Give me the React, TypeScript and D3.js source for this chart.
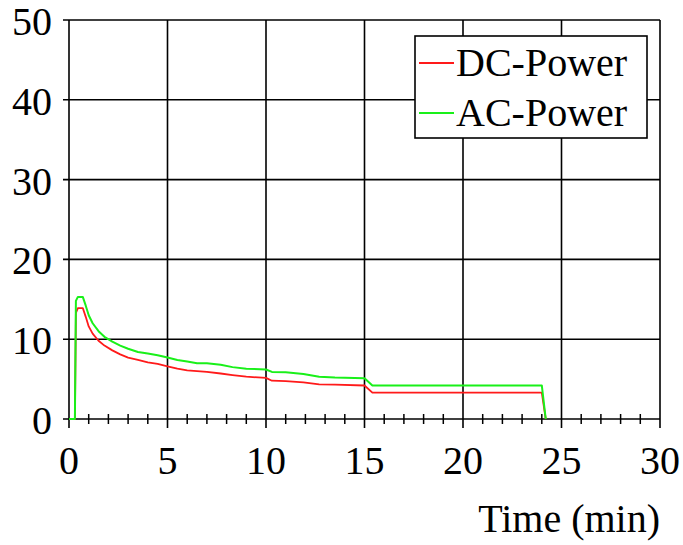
import React from 'react';
import { scaleLinear, line, range } from 'd3';

// values (minutes, kW)
const timeMin = [0, 0.3, 0.35, 0.45, 0.7, 0.85, 1.0, 1.2, 1.5, 1.8, 2.2, 2.6, 3.0, 3.5, 4.0, 4.5, 5.0, 5.5, 6.0, 6.5, 7.0, 7.7, 8.3, 9.0, 10.0, 10.3, 11.0, 11.9, 12.7, 13.5, 15.0, 15.4, 17, 20, 22, 24.0, 24.2];
const acPower = [0, 0, 14.8, 15.3, 15.3, 14.2, 13.0, 12.0, 11.0, 10.3, 9.7, 9.2, 8.8, 8.4, 8.2, 8.0, 7.7, 7.4, 7.2, 7.0, 7.0, 6.8, 6.5, 6.3, 6.2, 5.9, 5.85, 5.65, 5.3, 5.2, 5.1, 4.2, 4.2, 4.2, 4.2, 4.2, 0];
const dcPower = [0, 0, 13.3, 13.9, 13.9, 12.8, 11.6, 10.7, 9.8, 9.2, 8.6, 8.1, 7.7, 7.4, 7.1, 6.9, 6.6, 6.3, 6.1, 6.0, 5.9, 5.7, 5.5, 5.3, 5.15, 4.8, 4.75, 4.6, 4.35, 4.3, 4.2, 3.3, 3.3, 3.3, 3.3, 3.3, 0];

const xTicks = [0, 5, 10, 15, 20, 25, 30];
const yTicks = [0, 10, 20, 30, 40, 50];
const seriesNames = ['DC-Power', 'AC-Power'];
const seriesColors = ['#ff1a1a', '#19f019'];

const FONT = 'Liberation Serif';

export default function App() {
    const x = scaleLinear().domain([0, 30]).range([69, 660]);
    const y = scaleLinear().domain([0, 50]).range([419, 20]);

    const path = line<number>()
        .x((d, i) => x(timeMin[i]))
        .y(d => y(d));

    // minor ticks every minute on the time axis
    const minor = range(0, 31).filter(v => v % 5 !== 0);

    return (
        <svg width={683} height={545} style={{ position: 'absolute', left: 0, top: 0, background: '#fff' }}>
            {/* grid */}
            {xTicks.map(v => (
                <line key={'gx' + v} x1={x(v)} x2={x(v)} y1={y(50)} y2={y(0) + 9} stroke="#000" strokeWidth={1.6} />
            ))}
            {yTicks.map(v => (
                <line key={'gy' + v} x1={x(0) - 6} x2={x(30)} y1={y(v)} y2={y(v)} stroke="#000" strokeWidth={1.6} />
            ))}
            {minor.map(v => (
                <line key={'mx' + v} x1={x(v)} x2={x(v)} y1={y(0) - 5} y2={y(0) + 5} stroke="#000" strokeWidth={1.5} />
            ))}

            {/* data */}
            <path d={path(dcPower) || ''} fill="none" stroke={seriesColors[0]} strokeWidth={1.8} strokeLinejoin="round" />
            <path d={path(acPower) || ''} fill="none" stroke={seriesColors[1]} strokeWidth={2} strokeLinejoin="round" />

            {/* tick labels */}
            {xTicks.map(v => (
                <text key={'tx' + v} x={x(v)} y={474} fontFamily={FONT} fontSize={40} textAnchor="middle">{v}</text>
            ))}
            {yTicks.map(v => (
                <text key={'ty' + v} x={52} y={y(v) + 15} fontFamily={FONT} fontSize={40} textAnchor="end">{v}</text>
            ))}
            <text x={660} y={532} fontFamily={FONT} fontSize={40} textAnchor="end">Time (min)</text>

            {/* legend */}
            <rect x={415} y={36} width={232} height={102} fill="#fff" stroke="#000" strokeWidth={1.6} />
            {seriesNames.map((name, i) => (
                <g key={name}>
                    <line x1={419} x2={454} y1={63 + i * 50} y2={63 + i * 50} stroke={seriesColors[i]} strokeWidth={1.8} />
                    <text x={456} y={76 + i * 50} fontFamily={FONT} fontSize={40}>{name}</text>
                </g>
            ))}
        </svg>
    );
}
